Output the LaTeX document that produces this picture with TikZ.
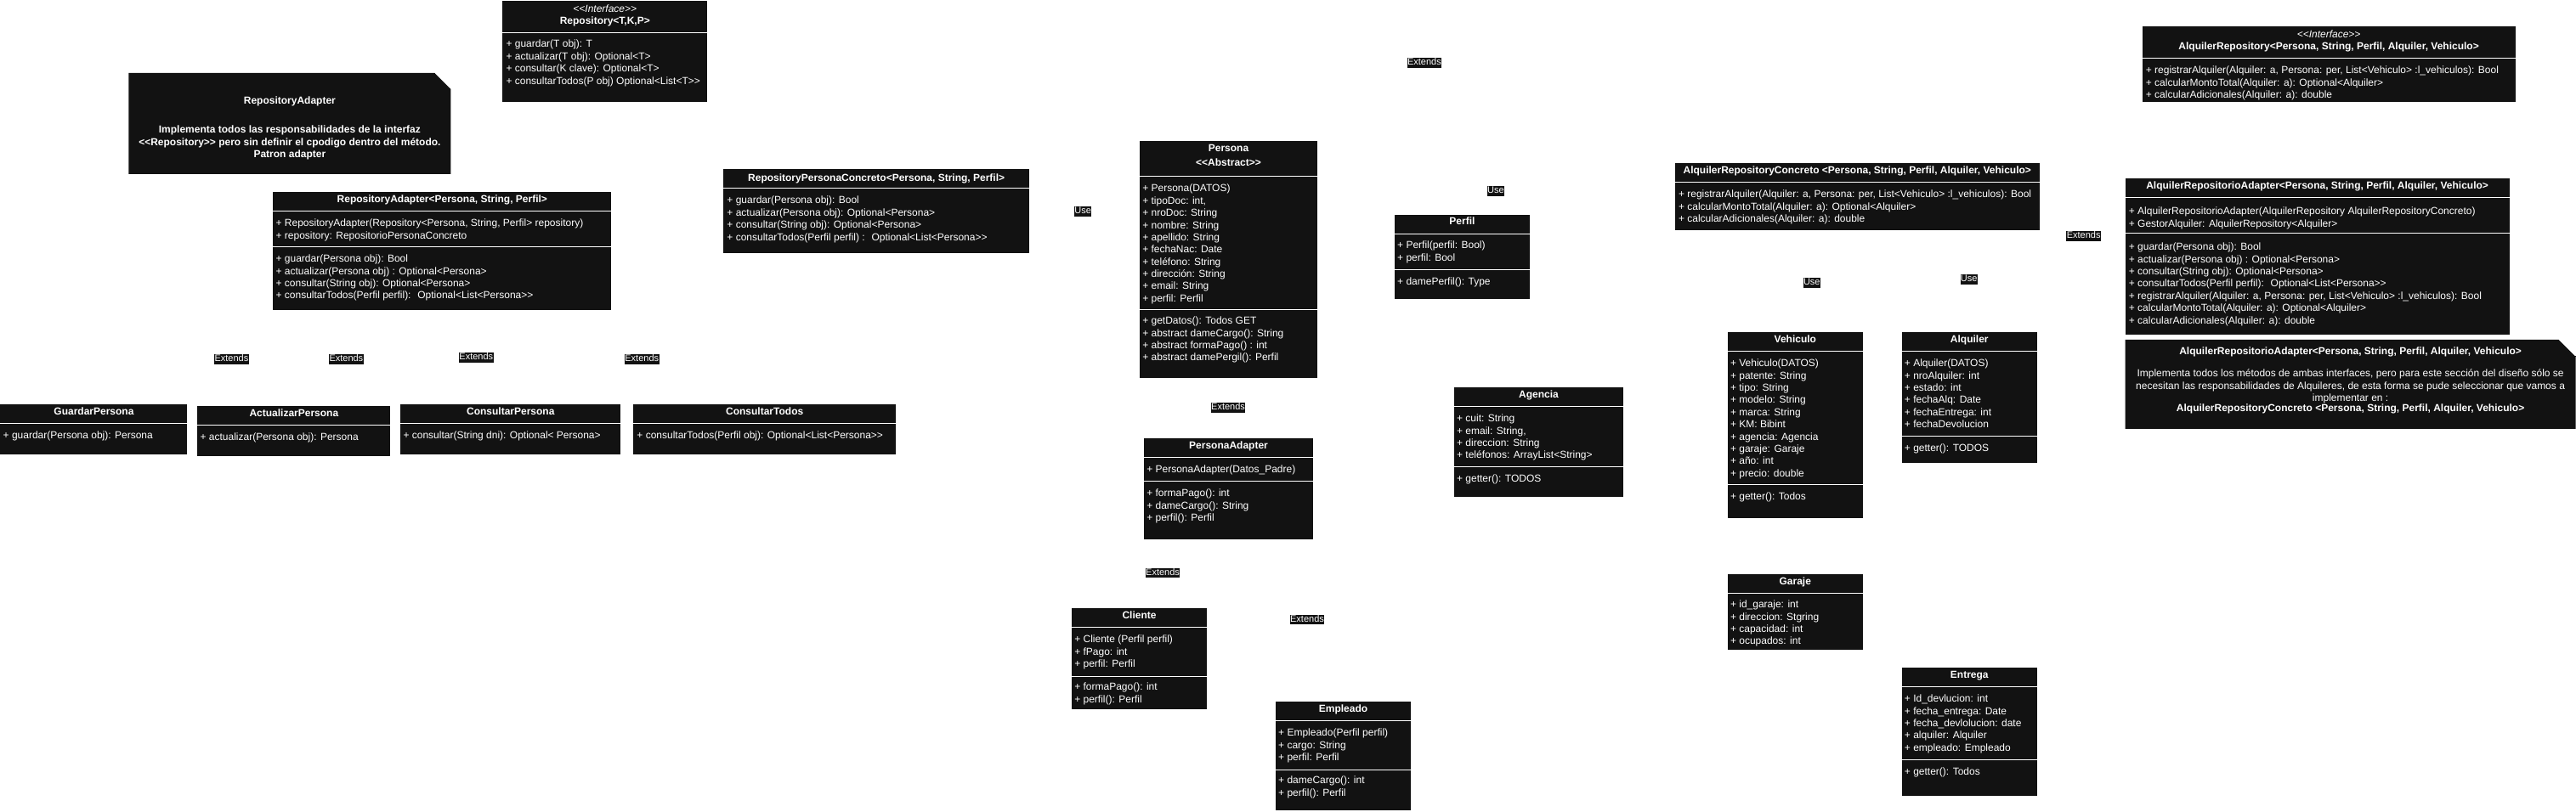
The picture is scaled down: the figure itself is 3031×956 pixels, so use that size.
\documentclass[tikz,border=0pt]{standalone}
\usepackage{fontspec}
\setmainfont{Liberation Sans}[Ligatures=TeXOff]
\usepackage{tikz}
\definecolor{umlblack}{HTML}{121212}

\begin{document}
\begin{tikzpicture}[x=1pt, y=-1pt,
  boxfill/.style={fill=umlblack},
  sepline/.style={draw=white, line width=1pt},
  foldline/.style={draw=umlblack, line width=1pt},
  classtitle/.style={text=white, font=\fontsize{12}{14.4}\selectfont\bfseries, inner sep=0pt, text height=8.6pt, text depth=2.5pt},
  stereo/.style={text=white, font=\fontsize{12}{14.4}\selectfont\itshape, inner sep=0pt, text height=8.6pt, text depth=2.5pt},
  members/.style={text=white, font=\fontsize{12}{14.4}\selectfont, inner sep=0pt, align=left, anchor=north west},
  notetext/.style={text=white, font=\fontsize{12}{14.4}\selectfont, inner sep=0pt, align=center, anchor=north},
  edgelabel/.style={fill=umlblack, text=white, font=\fontsize{11}{13}\selectfont, inner sep=0.4pt, text height=8.2pt, text depth=2.4pt}]

% Page
\fill[white] (0,0) rectangle (3031,956);

% Repository interface
\fill[boxfill] (591,1) rectangle (832,120);
\draw[sepline] (591,39) -- (832,39);
\node[stereo] (repo-st) at (711.5,11) {<<Interface>>};
\node[classtitle] (repo) at (711.5,25) {Repository<T,K,P>};
\node[members] (repo-m) at (595,47) {+ guardar(T obj): T\\+ actualizar(T obj): Optional<T>\\+ consultar(K clave): Optional<T>\\+ consultarTodos(P obj) Optional<List<T>>};

% Note RepositoryAdapter
\fill[boxfill] (151,86) -- (511,86) -- (530,105) -- (530,205) -- (151,205) -- cycle;
\draw[foldline] (511,86) -- (511,105) -- (530,105);
\node[notetext, font=\fontsize{12}{14.4}\selectfont\bfseries, anchor=center] (note1) at (340.5,119) {RepositoryAdapter};
\node[notetext, font=\fontsize{12}{14.4}\selectfont\bfseries] (note1-txt) at (340.5,148) {Implementa todos las responsabilidades de la interfaz\\<<Repository>> pero sin definir el cpodigo dentro del método.\\Patron adapter};

% RepositoryAdapter
\fill[boxfill] (321,226) rectangle (719,365);
\draw[sepline] (321,249) -- (719,249);
\draw[sepline] (321,291) -- (719,291);
\node[classtitle] (radapter) at (520,236) {RepositoryAdapter<Persona, String, Perfil>};
\node[members] (radapter-a) at (324,258) {+ RepositoryAdapter(Repository<Persona, String, Perfil> repository)\\+ repository: RepositorioPersonaConcreto};
\node[members] (radapter-m) at (324,300) {+ guardar(Persona obj): Bool\\+ actualizar(Persona obj) : Optional<Persona>\\+ consultar(String obj): Optional<Persona>\\+ consultarTodos(Perfil perfil): \ Optional<List<Persona>>};

% RepositoryPersonaConcreto
\fill[boxfill] (851,199) rectangle (1211,298);
\draw[sepline] (851,222) -- (1211,222);
\node[classtitle] (rpc) at (1031,211) {RepositoryPersonaConcreto<Persona, String, Perfil>};
\node[members] (rpc-m) at (855,231) {+ guardar(Persona obj): Bool\\+ actualizar(Persona obj): Optional<Persona>\\+ consultar(String obj): Optional<Persona>\\+ consultarTodos(Perfil perfil) : \ Optional<List<Persona>>};

% Use cases
\fill[boxfill] (0,476) rectangle (220,535);
\draw[sepline] (0,499) -- (220,499);
\node[classtitle] (guardar) at (110,486) {GuardarPersona};
\node[members] (guardar-m) at (3,508) {+ guardar(Persona obj): Persona};

\fill[boxfill] (232,478) rectangle (459,537);
\draw[sepline] (232,501) -- (459,501);
\node[classtitle] (actualizar) at (345.5,488) {ActualizarPersona};
\node[members] (actualizar-m) at (235,510) {+ actualizar(Persona obj): Persona};

\fill[boxfill] (471,476) rectangle (730,535);
\draw[sepline] (471,499) -- (730,499);
\node[classtitle] (consultar) at (600.5,486) {ConsultarPersona};
\node[members] (consultar-m) at (474,508) {+ consultar(String dni): Optional< Persona>};

\fill[boxfill] (745,476) rectangle (1054,535);
\draw[sepline] (745,499) -- (1054,499);
\node[classtitle] (todos) at (899.5,486) {ConsultarTodos};
\node[members] (todos-m) at (749,508) {+ consultarTodos(Perfil obj): Optional<List<Persona>>};

% Persona
\fill[boxfill] (1341,166) rectangle (1550,445);
\draw[sepline] (1341,208) -- (1550,208);
\draw[sepline] (1341,365) -- (1550,365);
\node[classtitle] (persona) at (1445.5,176) {Persona};
\node[classtitle] (persona-st) at (1445.5,193) {<<Abstract>>};
\node[members] (persona-a) at (1344,217) {+ Persona(DATOS)\\+ tipoDoc: int,\\+ nroDoc: String\\+ nombre: String\\+ apellido: String\\+ fechaNac: Date\\+ teléfono: String\\+ dirección: String\\+ email: String\\+ perfil: Perfil};
\node[members] (persona-m) at (1344,373) {+ getDatos(): Todos GET\\+ abstract dameCargo(): String\\+ abstract formaPago() : int\\+ abstract damePergil(): Perfil};

% Perfil
\fill[boxfill] (1641,253) rectangle (1800,352);
\draw[sepline] (1641,276) -- (1800,276);
\draw[sepline] (1641,318) -- (1800,318);
\node[classtitle] (perfil) at (1720.5,262) {Perfil};
\node[members] (perfil-a) at (1644,284) {+ Perfil(perfil: Bool)\\+ perfil: Bool};
\node[members] (perfil-m) at (1644,327) {+ damePerfil(): Type};

% PersonaAdapter
\fill[boxfill] (1346,516) rectangle (1545,635);
\draw[sepline] (1346,539) -- (1545,539);
\draw[sepline] (1346,567) -- (1545,567);
\node[classtitle] (padapter) at (1445.5,526) {PersonaAdapter};
\node[members] (padapter-a) at (1349,548) {+ PersonaAdapter(Datos\_Padre)};
\node[members] (padapter-m) at (1349,576) {+ formaPago(): int\\+ dameCargo(): String\\+ perfil(): Perfil};

% Agencia
\fill[boxfill] (1711,456) rectangle (1910,585);
\draw[sepline] (1711,479) -- (1910,479);
\draw[sepline] (1711,550) -- (1910,550);
\node[classtitle] (agencia) at (1810.5,466) {Agencia};
\node[members] (agencia-a) at (1714,488) {+ cuit: String\\+ email: String,\\+ direccion: String\\+ teléfonos: ArrayList<String>};
\node[members] (agencia-m) at (1714,559) {+ getter(): TODOS};

% Cliente
\fill[boxfill] (1261,716) rectangle (1420,835);
\draw[sepline] (1261,739) -- (1420,739);
\draw[sepline] (1261,797) -- (1420,797);
\node[classtitle] (cliente) at (1340.5,726) {Cliente};
\node[members] (cliente-a) at (1264,748) {+ Cliente (Perfil perfil)\\+ fPago: int\\+ perfil: Perfil};
\node[members] (cliente-m) at (1264,804) {+ formaPago(): int\\+ perfil(): Perfil};

% Empleado
\fill[boxfill] (1501,826) rectangle (1660,954);
\draw[sepline] (1501,849) -- (1660,849);
\draw[sepline] (1501,907) -- (1660,907);
\node[classtitle] (empleado) at (1580.5,836) {Empleado};
\node[members] (empleado-a) at (1504,858) {+ Empleado(Perfil perfil)\\+ cargo: String\\+ perfil: Perfil};
\node[members] (empleado-m) at (1504,914) {+ dameCargo(): int\\+ perfil(): Perfil};

% AlquilerRepositoryConcreto
\fill[boxfill] (1971,192) rectangle (2400,271);
\draw[sepline] (1971,215) -- (2400,215);
\node[classtitle] (arc) at (2185.5,202) {AlquilerRepositoryConcreto <Persona, String, Perfil, Alquiler, Vehiculo>};
\node[members] (arc-m) at (1975,224) {+ registrarAlquiler(Alquiler: a, Persona: per, List<Vehiculo> :l\_vehiculos): Bool\\+ calcularMontoTotal(Alquiler: a): Optional<Alquiler>\\+ calcularAdicionales(Alquiler: a): double};

% Vehiculo
\fill[boxfill] (2033,391) rectangle (2192,610);
\draw[sepline] (2033,414) -- (2192,414);
\draw[sepline] (2033,571) -- (2192,571);
\node[classtitle] (vehiculo) at (2112.5,401) {Vehiculo};
\node[members] (vehiculo-a) at (2036,423) {+ Vehiculo(DATOS)\\+ patente: String\\+ tipo: String\\+ modelo: String\\+ marca: String\\+ KM: Bibint\\+ agencia: Agencia\\+ garaje: Garaje\\+ año: int\\+ precio: double};
\node[members] (vehiculo-m) at (2036,580) {+ getter(): Todos};

% Alquiler
\fill[boxfill] (2238,391) rectangle (2397,545);
\draw[sepline] (2238,414) -- (2397,414);
\draw[sepline] (2238,514) -- (2397,514);
\node[classtitle] (alquiler) at (2317.5,401) {Alquiler};
\node[members] (alquiler-a) at (2241,423) {+ Alquiler(DATOS)\\+ nroAlquiler: int\\+ estado: int\\+ fechaAlq: Date\\+ fechaEntrega: int\\+ fechaDevolucion};
\node[members] (alquiler-m) at (2241,523) {+ getter(): TODOS};

% Garaje
\fill[boxfill] (2033,676) rectangle (2192,765);
\draw[sepline] (2033,699) -- (2192,699);
\node[classtitle] (garaje) at (2112.5,686) {Garaje};
\node[members] (garaje-a) at (2036,707) {+ id\_garaje: int\\+ direccion: Stgring\\+ capacidad: int\\+ ocupados: int};

% Entrega
\fill[boxfill] (2238,786) rectangle (2397,937);
\draw[sepline] (2238,809) -- (2397,809);
\draw[sepline] (2238,895) -- (2397,895);
\node[classtitle] (entrega) at (2317.5,796) {Entrega};
\node[members] (entrega-a) at (2241,818) {+ Id\_devlucion: int\\+ fecha\_entrega: Date\\+ fecha\_devlolucion: date\\+ alquiler: Alquiler\\+ empleado: Empleado};
\node[members] (entrega-m) at (2241,904) {+ getter(): Todos};

% AlquilerRepository interface
\fill[boxfill] (2521,31) rectangle (2960,120);
\draw[sepline] (2521,69) -- (2960,69);
\node[stereo] (arepo-st) at (2740.5,41) {<<Interface>>};
\node[classtitle] (arepo) at (2740.5,55) {AlquilerRepository<Persona, String, Perfil, Alquiler, Vehiculo>};
\node[members] (arepo-m) at (2525,78) {+ registrarAlquiler(Alquiler: a, Persona: per, List<Vehiculo> :l\_vehiculos): Bool\\+ calcularMontoTotal(Alquiler: a): Optional<Alquiler>\\+ calcularAdicionales(Alquiler: a): double};

% AlquilerRepositorioAdapter
\fill[boxfill] (2501,210) rectangle (2953,394);
\draw[sepline] (2501,233) -- (2953,233);
\draw[sepline] (2501,275) -- (2953,275);
\node[classtitle] (aadapter) at (2727,220) {AlquilerRepositorioAdapter<Persona, String, Perfil, Alquiler, Vehiculo>};
\node[members] (aadapter-a) at (2505,244) {+ AlquilerRepositorioAdapter(AlquilerRepository AlquilerRepositoryConcreto)\\+ GestorAlquiler: AlquilerRepository<Alquiler>};
\node[members] (aadapter-m) at (2505,286) {+ guardar(Persona obj): Bool\\+ actualizar(Persona obj) : Optional<Persona>\\+ consultar(String obj): Optional<Persona>\\+ consultarTodos(Perfil perfil): \ Optional<List<Persona>>\\+ registrarAlquiler(Alquiler: a, Persona: per, List<Vehiculo> :l\_vehiculos): Bool\\+ calcularMontoTotal(Alquiler: a): Optional<Alquiler>\\+ calcularAdicionales(Alquiler: a): double};

% Note AlquilerRepositorioAdapter
\fill[boxfill] (2501,400) -- (3011,400) -- (3031,420) -- (3031,505) -- (2501,505) -- cycle;
\draw[foldline] (3011,400) -- (3011,420) -- (3031,420);
\node[notetext, font=\fontsize{12}{14.4}\selectfont\bfseries, anchor=center] (note2) at (2766,415) {AlquilerRepositorioAdapter<Persona, String, Perfil, Alquiler, Vehiculo>};
\node[notetext] (note2-txt) at (2766,435) {Implementa todos los métodos de ambas interfaces, pero para este sección del diseño sólo se\\necesitan las responsabilidades de Alquileres, de esta forma se pude seleccionar que vamos a\\implementar en :};
\node[notetext, font=\fontsize{12}{14.4}\selectfont\bfseries, anchor=center] (note2-end) at (2766,482) {AlquilerRepositoryConcreto <Persona, String, Perfil, Alquiler, Vehiculo>};

% Edge labels
\node[edgelabel] (ext1) at (272,423) {Extends};
\node[edgelabel] (ext2) at (407,423) {Extends};
\node[edgelabel] (ext3) at (560,421) {Extends};
\node[edgelabel] (ext4) at (755,423) {Extends};
\node[edgelabel] (use1) at (1274,249) {Use};
\node[edgelabel] (ext5) at (1676,74) {Extends};
\node[edgelabel] (use2) at (1760,225) {Use};
\node[edgelabel] (ext6) at (1445,480) {Extends};
\node[edgelabel] (ext7) at (1368,675) {Extends};
\node[edgelabel] (ext8) at (1538,730) {Extends};
\node[edgelabel] (use3) at (2132,333) {Use};
\node[edgelabel] (use4) at (2317,329) {Use};
\node[edgelabel] (ext9) at (2452,278) {Extends};

\end{tikzpicture}
\end{document}
